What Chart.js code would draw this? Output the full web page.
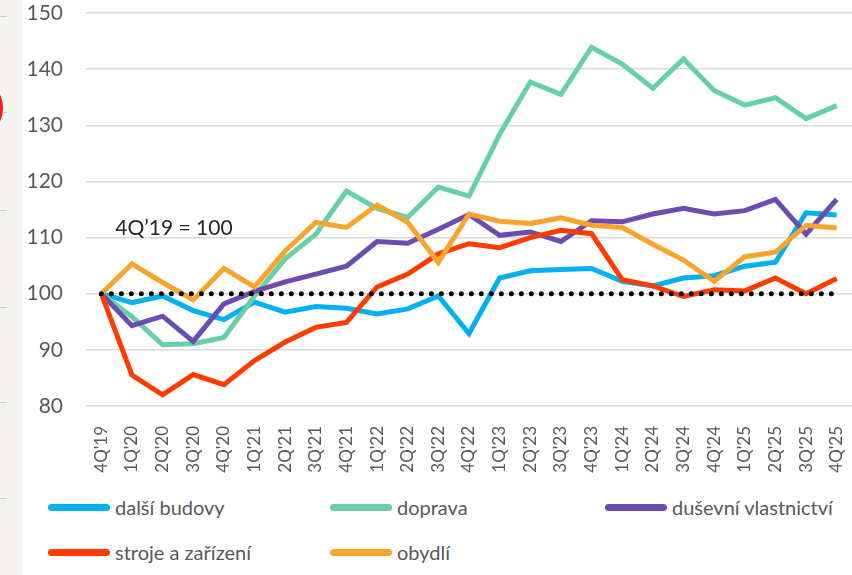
<!DOCTYPE html>
<html>
<head>
<meta charset="utf-8">
<script src="https://cdn.jsdelivr.net/npm/chart.js@4.4.1/dist/chart.umd.min.js"></script>
<style>
    body { margin: 0; background: #fff; width: 852px; height: 575px; overflow: hidden; position: relative; font-family: Lato, sans-serif; }
    #strip { position: absolute; left: 0; top: 0; width: 22px; height: 575px; background: #f4f3ef; }
    #strip .tick { position: absolute; left: 0; width: 7px; height: 1px; background: #d0d0d0; }
    #strip .dot { position: absolute; left: -15px; top: 90px; width: 18px; height: 36px; border-radius: 50%; background: #ff1a1a; }
    #wrap { position: absolute; left: 0; top: 0; }
    .legend-item { position: absolute; font-size: 20px; color: #595959; line-height: 24px; padding-left: 67px; white-space: nowrap; }
    .legend-item .swatch { position: absolute; left: 0; top: 9px; width: 62px; height: 7px; border-radius: 4px; }
</style>
</head>
<body>
<div id="strip">
    <div class="tick" style="top:16px"></div>
    <div class="tick" style="top:112px"></div>
    <div class="tick" style="top:210px"></div>
    <div class="tick" style="top:307px"></div>
    <div class="tick" style="top:402px"></div>
    <div class="tick" style="top:498px"></div>
    <div class="dot"></div>
</div>
<div id="wrap"><canvas id="chart" width="852" height="480"></canvas></div>
<div id="legend"></div>
<script>
const quarters = ["4Q'19", "1Q'20", "2Q'20", "3Q'20", "4Q'20", "1Q'21", "2Q'21", "3Q'21", "4Q'21",
    "1Q'22", "2Q'22", "3Q'22", "4Q'22", "1Q'23", "2Q'23", "3Q'23", "4Q'23",
    "1Q'24", "2Q'24", "3Q'24", "4Q'24", "1Q'25", "2Q'25", "3Q'25", "4Q'25"];

const dalsiBudovy = [100, 98.4, 99.6, 97.0, 95.4, 98.5, 96.7, 97.7, 97.4, 96.4, 97.3, 99.6, 92.9,
    102.8, 104.1, 104.3, 104.5, 102.2, 101.4, 102.8, 103.2, 104.9, 105.6, 114.4, 114.0];
const doprava = [100, 95.9, 90.9, 91.1, 92.2, 99.6, 106.2, 110.6, 118.3, 115.2, 113.6, 119.0, 117.4,
    128.4, 137.7, 135.5, 143.9, 140.9, 136.6, 141.8, 136.2, 133.6, 134.9, 131.2, 133.5];
const dusevniVlastnictvi = [100, 94.3, 96.0, 91.5, 98.2, 100.4, 102.1, 103.5, 104.9, 109.3, 109.0, 111.5, 114.1,
    110.4, 111.0, 109.3, 113.0, 112.8, 114.2, 115.2, 114.2, 114.8, 116.8, 110.6, 116.8];
const strojeZarizeni = [100, 85.5, 82.0, 85.6, 83.8, 88.1, 91.4, 94.0, 94.9, 101.2, 103.5, 107.1, 108.9,
    108.2, 110.0, 111.3, 110.7, 102.5, 101.4, 99.5, 100.7, 100.5, 102.8, 100.0, 102.7];
const obydli = [100, 105.3, 102.0, 98.9, 104.5, 101.2, 107.6, 112.7, 111.8, 115.8, 112.7, 105.6, 114.2,
    112.9, 112.5, 113.5, 112.2, 111.8, 108.8, 106.0, 102.2, 106.6, 107.4, 112.2, 111.7];
const baseLine = quarters.map(() => 100);

const seriesNames = ['další budovy', 'doprava', 'duševní vlastnictví', 'stroje a zařízení', 'obydlí'];
const seriesColors = ['#00b0f0', '#68d0a8', '#6a4db0', '#ff3c00', '#f9a52d'];
const seriesData = [dalsiBudovy, doprava, dusevniVlastnictvi, strojeZarizeni, obydli];

const yTicks = [80, 90, 100, 110, 120, 130, 140, 150];

const datasets = seriesNames.map((name, i) => ({
    label: name,
    data: seriesData[i],
    borderColor: seriesColors[i],
    backgroundColor: seriesColors[i],
    borderWidth: 5,
    pointRadius: 0,
    tension: 0,
    order: 5 - i
}));

datasets.push({
    label: 'base',
    data: baseLine,
    borderColor: '#000',
    borderWidth: 5,
    borderDash: [0, 10],
    borderCapStyle: 'round',
    pointRadius: 0,
    order: 0
});

// text "4Q'19 = 100" inside the plot
const noteText = {
    id: 'noteText',
    afterDatasetsDraw(chart) {
        const ctx = chart.ctx;
        const x = chart.scales.x.getPixelForValue(0) + 14;
        const y = chart.scales.y.getPixelForValue(111.6);
        ctx.save();
        ctx.font = '21px Lato';
        ctx.fillStyle = '#262626';
        ctx.textBaseline = 'middle';
        ctx.fillText('4Q\u201919 = 100', x, y);
        ctx.restore();
    }
};

new Chart(document.getElementById('chart'), {
    type: 'line',
    data: { labels: quarters, datasets: datasets },
    options: {
        responsive: false,
        animation: false,
        layout: { padding: { top: 13, right: 0, left: 0, bottom: 0 } },
        plugins: { legend: { display: false }, tooltip: { enabled: false } },
        scales: {
            x: {
                offset: true,
                grid: { display: false },
                border: { display: false },
                ticks: {
                    color: '#595959',
                    font: { family: 'Lato', size: 17 },
                    minRotation: 90,
                    maxRotation: 90,
                    autoSkip: false,
                    padding: 12
                },
                afterFit(scale) {
                    scale.height = 74;
                    scale.paddingLeft = 0;
                    scale.paddingRight = 0;
                }
            },
            y: {
                min: 80,
                max: 150,
                afterBuildTicks(scale) { scale.ticks = yTicks.map(v => ({ value: v })); },
                grid: { color: '#d9d9d9', lineWidth: 1.5, drawTicks: false },
                border: { display: false },
                ticks: {
                    color: '#595959',
                    font: { family: 'Lato', size: 21 },
                    padding: 23
                },
                afterFit(scale) {
                    scale.width = 86;
                    scale.paddingTop = 0;
                    scale.paddingBottom = 0;
                }
            }
        }
    },
    plugins: [noteText]
});

// legend laid out in columns like the original
const legendPos = [[48, 495], [330, 495], [605, 495], [48, 540], [330, 540]];
const legend = document.getElementById('legend');
seriesNames.forEach((name, i) => {
    const item = document.createElement('div');
    item.className = 'legend-item';
    item.style.left = legendPos[i][0] + 'px';
    item.style.top = legendPos[i][1] + 'px';
    item.innerHTML = `<span class="swatch" style="background:${seriesColors[i]}"></span>${name}`;
    legend.appendChild(item);
});
</script>
</body>
</html>
